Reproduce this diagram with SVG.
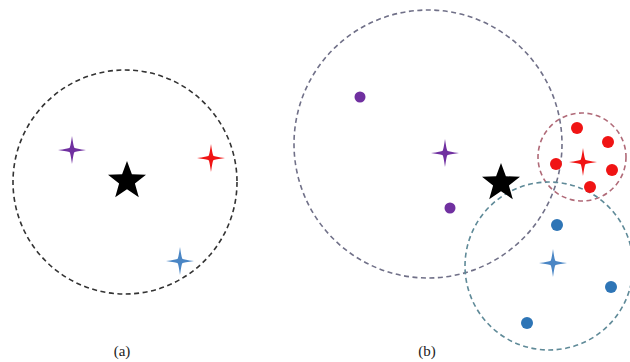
<svg xmlns="http://www.w3.org/2000/svg" width="630" height="362" viewBox="0 0 630 362">
<defs>
<style>
.ring{fill:none;stroke-width:1.6;stroke-dasharray:5 3.5}
.lbl{font-family:"Liberation Serif",serif;font-size:15px;fill:#222;text-anchor:middle}
.pu{fill:#7030a0}.rd{fill:#f01414}.bl{fill:#2e75b6}.bk{fill:#000}
</style>
<path id="spark" d="M0,-14 Q1.4,-4 2.3,-2.3 Q4,-1.4 14,0 Q4,1.4 2.3,2.3 Q1.4,4 0,14 Q-1.4,4 -2.3,2.3 Q-4,1.4 -14,0 Q-4,-1.4 -2.3,-2.3 Q-1.4,-4 0,-14Z"/>
<path id="star" d="M0,-20 L4.9,-6.7 L19,-6.2 L7.9,2.6 L11.8,16.2 L0,8.3 L-11.8,16.2 L-7.9,2.6 L-19,-6.2 L-4.9,-6.7Z"/>
</defs>
<rect width="630" height="362" fill="#fff"/>
<g id="panel-a">
<g id="a-ring"><circle class="ring" cx="125" cy="182" r="112" stroke="#333"/></g>
<g id="a-purple"><use href="#spark" class="pu" x="72" y="150"/></g>
<g id="a-red"><use href="#spark" class="rd" x="211" y="158"/></g>
<g id="a-blue"><use href="#spark" fill="#4a86c5" x="180" y="261"/></g>
<g id="a-star"><use href="#star" class="bk" x="127" y="181"/></g>
<text class="lbl" x="122" y="356">(a)</text>
</g>
<g id="panel-b">
<g id="b-purple-ring"><circle class="ring" cx="428" cy="144" r="134" stroke="#707088"/></g>
<g id="b-red-ring"><circle class="ring" cx="582" cy="157" r="44" stroke="#b06a78"/></g>
<g id="b-blue-ring"><circle class="ring" cx="549" cy="266" r="84" stroke="#5f8a98"/></g>
<g id="b-purple">
<circle class="pu" cx="360" cy="97" r="5.5"/>
<circle class="pu" cx="450" cy="208" r="5.5"/>
<use href="#spark" class="pu" x="445" y="153"/>
</g>
<g id="b-red">
<circle class="rd" cx="577" cy="128" r="6"/>
<circle class="rd" cx="608" cy="142" r="6"/>
<circle class="rd" cx="556" cy="164" r="6"/>
<circle class="rd" cx="612" cy="170" r="6"/>
<circle class="rd" cx="590" cy="187" r="6"/>
<use href="#spark" class="rd" x="583" y="162"/>
</g>
<g id="b-blue">
<circle class="bl" cx="557" cy="225" r="6"/>
<circle class="bl" cx="611" cy="287" r="6"/>
<circle class="bl" cx="527" cy="323" r="6"/>
<use href="#spark" fill="#4a86c5" x="553" y="263"/>
</g>
<g id="b-star"><use href="#star" class="bk" x="501" y="183"/></g>
<text class="lbl" x="427" y="356">(b)</text>
</g>
</svg>
